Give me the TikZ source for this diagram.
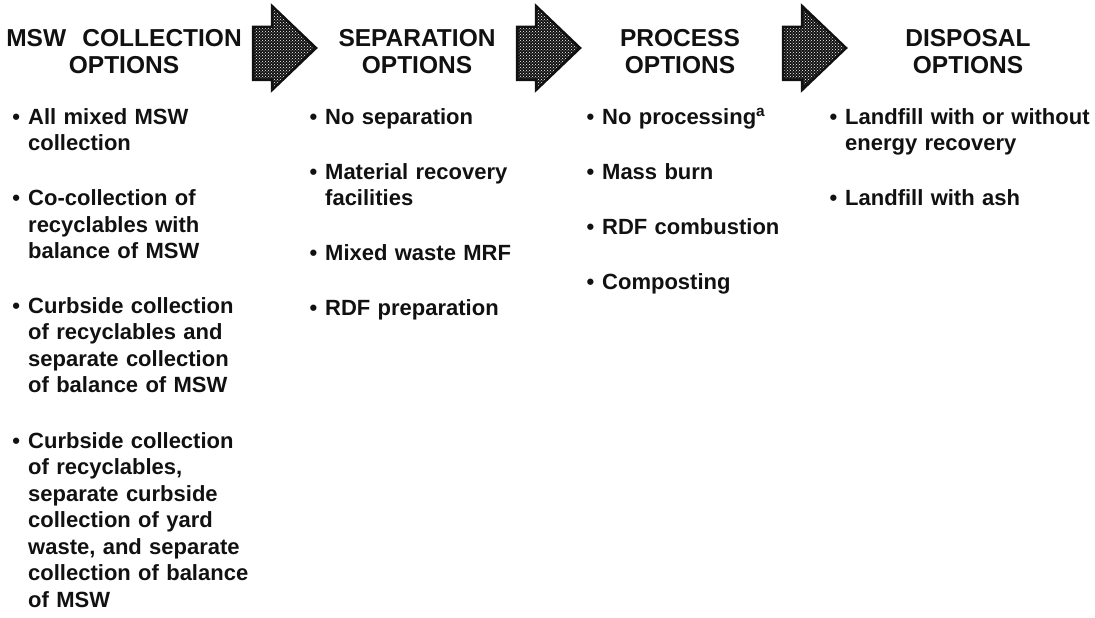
\documentclass[tikz,border=0pt]{standalone}
\usepackage{fontspec}
\setmainfont{Liberation Sans}
\usepackage{tikz}
\usetikzlibrary{patterns}
\usepackage{xcolor}
\definecolor{InkBlack}{HTML}{111111}
\newcommand{\bul}{\leavevmode\llap{\textbullet\hspace{8pt}}}

\begin{document}
\begin{tikzpicture}[x=1pt, y=-1pt,
  headbox/.style={text width=270pt, align=center, inner sep=0pt, anchor=base,
                  font=\fontsize{24.5}{26.5}\selectfont\bfseries, text=InkBlack},
  listbox/.style={text width=255pt, align=left, inner sep=0pt, anchor=base west,
                  font=\fontsize{22}{26.5}\selectfont\bfseries, text=InkBlack},
  flowarrow/.style={preaction={fill=InkBlack}, pattern=crosshatch dots, pattern color=white,
                    draw=InkBlack, line width=2.5pt, line join=miter}]
  \useasboundingbox (0,0) rectangle (1095,618);

  % column headings
  \foreach \name/\x/\title in {collect/124/{MSW\ \ COLLECTION}, separ/417/SEPARATION,
                               proc/680/PROCESS, disp/968/DISPOSAL}{
    \node[headbox] (\name) at (\x,47) {\title\\OPTIONS};
  }

  % block arrows between the headings
  \foreach \x in {253,517,783}{
    \draw[flowarrow] (\x,27) -- (\x+19,27) -- (\x+19,6) -- (\x+63,48)
      -- (\x+19,90) -- (\x+19,80) -- (\x,80) -- cycle;
  }

  % option lists
  \foreach \name/\x/\body in {
    collectlist/28/{\bul All mixed MSW\\collection\\[28.5pt]
      \bul Co-collection of\\recyclables with\\balance of MSW\\[28.5pt]
      \bul Curbside collection\\of recyclables and\\separate collection\\of balance of MSW\\[28.5pt]
      \bul Curbside collection\\of recyclables,\\separate curbside\\collection of yard\\waste, and separate\\collection of balance\\of MSW},
    separlist/325/{\bul No separation\\[28.5pt]
      \bul Material recovery\\facilities\\[28.5pt]
      \bul Mixed waste MRF\\[28.5pt]
      \bul RDF preparation},
    proclist/602/{\bul No processing\textsuperscript{a}\\[28.5pt]
      \bul Mass burn\\[28.5pt]
      \bul RDF combustion\\[28.5pt]
      \bul Composting},
    displist/845/{\bul Landfill with or without\\energy recovery\\[28.5pt]
      \bul Landfill with ash}
  }{
    \node[listbox] (\name) at (\x,124) {\body};
  }
\end{tikzpicture}
\end{document}
